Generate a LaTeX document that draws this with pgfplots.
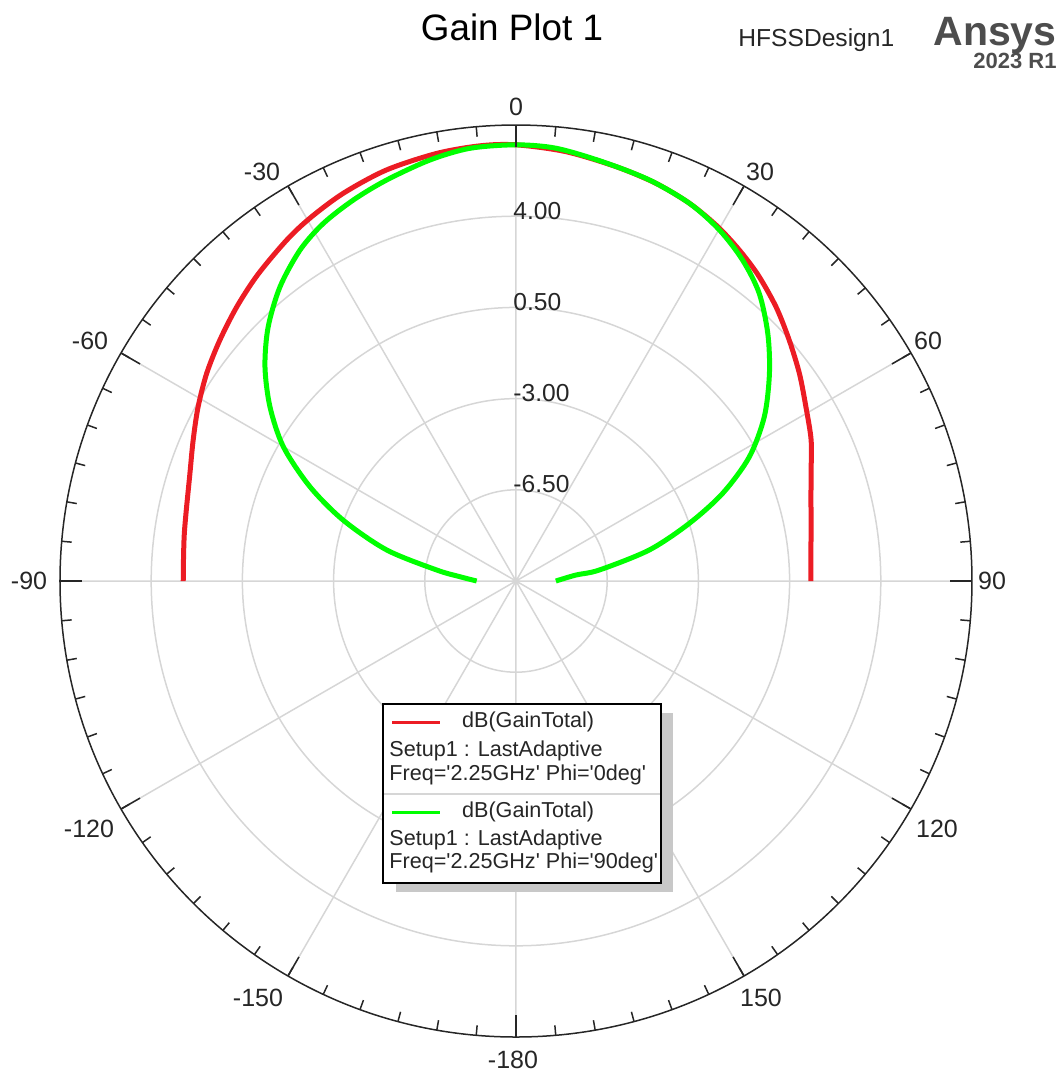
\documentclass[border=0pt]{standalone}
\usepackage{fontspec}
\setmainfont{Liberation Sans}
\usepackage{pgfplots}
\pgfplotsset{compat=1.18}
\usepgfplotslibrary{polar}
\usepackage{pgfplotstable}

\definecolor{cred}{RGB}{236,28,36}
\definecolor{cgreen}{RGB}{0,255,0}
\definecolor{cgrid}{RGB}{214,214,214}
\definecolor{ansys}{RGB}{77,77,77}
\definecolor{shadow}{RGB}{200,200,200}

\newlength\pxu
\setlength\pxu{0.5pt}

% theta: degrees clockwise from top (0 = up), dB: dB(GainTotal)
\pgfplotstableread{
theta dB
-90 2.77
-81.8 2.86
-71.7 3.18
-66.4 3.52
-61.3 3.91
-56.1 4.30
-50.9 4.65
-45.5 5.02
-40.1 5.38
-33.9 5.77
-29.5 6.02
-24.0 6.29
-17.5 6.54
-10.5 6.69
-4.7 6.76
0 6.74
6.6 6.59
13.6 6.36
19.4 6.18
24.7 5.95
29.5 5.66
33.8 5.34
38.3 4.98
43.5 4.50
48.6 3.98
53.8 3.48
59.0 2.98
64.5 2.55
70 2.05
75 1.72
80 1.50
85 1.36
90 1.32
}\redtab

\pgfplotstableread{
theta dB
-90 -8.49
-85.6 -7.84
-82.1 -6.93
-76.5 -4.90
-70.6 -2.97
-65.4 -1.30
-60.0 0.31
-54.7 1.57
-49.5 2.67
-44.3 3.62
-38.7 4.48
-33.1 5.17
-28.3 5.59
-23.1 5.90
-17.9 6.17
-11.6 6.49
-6.1 6.70
0 6.74
5.3 6.68
11.7 6.43
18.4 6.22
24.7 5.95
30.1 5.57
35.2 5.08
40.2 4.46
45.5 3.55
50.7 2.57
56.5 1.43
62.0 0.14
67.0 -1.38
71.6 -2.99
76.9 -4.75
82.5 -6.78
84.3 -7.69
90 -8.47
}\greentab

\begin{document}
\begin{tikzpicture}
\path[use as bounding box] (0,0) rectangle ({1064*\pxu},{-1078*\pxu});

\begin{polaraxis}[
  at={({516*\pxu},{-581*\pxu})}, anchor=center,
  scale only axis, width=456pt, height=456pt,
  xmin=0, xmax=360, ymin=0, ymax=17.5,
  xtick={0,30,...,330}, xticklabels={},
  ytick={3.5,7,10.5,14}, yticklabels={},
  grid=major,
  major grid style={cgrid, line width=0.75pt},
  axis line style={draw=none},
  major tick length=0pt, minor tick length=0pt,
  tick style={draw=none},
  clip=false,
]
\addplot[cred, line width=2.5pt, no markers, smooth]
  table[x expr={90-\thisrow{theta}}, y expr={\thisrow{dB}+10}] {\redtab};
\addplot[cgreen, line width=2.5pt, no markers, smooth]
  table[x expr={90-\thisrow{theta}}, y expr={\thisrow{dB}+10}] {\greentab};

% outer circle and angular ticks (pointing inward)
\draw[black!85, line width=0.75pt] (axis cs:0,0) circle[radius=228pt];
\pgfplotsinvokeforeach{0,5,...,355}{
  \draw[black!85, line width=0.75pt] (axis cs:#1,17.5) -- (axis cs:#1,17.116);
}
\pgfplotsinvokeforeach{0,30,...,330}{
  \draw[black!85, line width=0.75pt] (axis cs:#1,17.5) -- (axis cs:#1,16.66);
}

\node[anchor=base west, inner sep=0, xshift=-1.5pt, yshift=-1.5pt,
      font=\fontsize{12.3}{15}\selectfont, text=black!85] at (axis cs:90,14) {4.00};
\node[anchor=base west, inner sep=0, xshift=-1.5pt, yshift=-1.5pt,
      font=\fontsize{12.3}{15}\selectfont, text=black!85] at (axis cs:90,10.5) {0.50};
\node[anchor=base west, inner sep=0, xshift=-1.5pt, yshift=-1.5pt,
      font=\fontsize{12.3}{15}\selectfont, text=black!85] at (axis cs:90,7) {-3.00};
\node[anchor=base west, inner sep=0, xshift=-1.5pt, yshift=-1.5pt,
      font=\fontsize{12.3}{15}\selectfont, text=black!85] at (axis cs:90,3.5) {-6.50};
\end{polaraxis}

% angular tick labels
\begin{scope}[every node/.style={inner sep=0, font=\fontsize{12.5}{15}\selectfont, text=black!85}]
\node at ({516*\pxu},{-107*\pxu}) {0};
\node at ({760*\pxu},{-172*\pxu}) {30};
\node at ({928*\pxu},{-341*\pxu}) {60};
\node at ({992*\pxu},{-581*\pxu}) {90};
\node at ({937*\pxu},{-829*\pxu}) {120};
\node at ({761*\pxu},{-998*\pxu}) {150};
\node at ({513*\pxu},{-1060*\pxu}) {-180};
\node at ({258*\pxu},{-998*\pxu}) {-150};
\node at ({89*\pxu},{-829*\pxu}) {-120};
\node at ({29*\pxu},{-581*\pxu}) {-90};
\node at ({90*\pxu},{-341*\pxu}) {-60};
\node at ({262*\pxu},{-172*\pxu}) {-30};
\end{scope}

% titles
\node[font=\fontsize{18.4}{22}\selectfont, text=black] at ({512*\pxu},{-27*\pxu}) {Gain Plot 1};
\node[font=\fontsize{12.3}{15}\selectfont, text=black!85, anchor=west, inner sep=0] at ({738*\pxu},{-40*\pxu}) {HFSSDesign1};
\node[font=\bfseries\fontsize{20.5}{24}\selectfont, text=ansys, anchor=base east, inner sep=0] at ({1057*\pxu},{-45*\pxu}) {Ansys};
\node[font=\bfseries\fontsize{11}{13}\selectfont, text=ansys, anchor=base east, inner sep=0] at ({1057*\pxu},{-68*\pxu}) {2023 R1};

% legend
\fill[shadow] ({396*\pxu},{-713*\pxu}) rectangle ({673*\pxu},{-892*\pxu});
\draw[black, fill=white, line width=1pt] ({383*\pxu},{-704*\pxu}) rectangle ({661*\pxu},{-883*\pxu});
\draw[cgrid, line width=1pt] ({384*\pxu},{-794*\pxu}) -- ({660*\pxu},{-794*\pxu});
\draw[cred, line width=1.75pt] ({392*\pxu},{-722.7*\pxu}) -- ({440*\pxu},{-722.7*\pxu});
\draw[cgreen, line width=1.75pt] ({392*\pxu},{-812.7*\pxu}) -- ({440*\pxu},{-812.7*\pxu});
\begin{scope}[every node/.style={anchor=west, inner sep=0, font=\fontsize{10.8}{13}\selectfont, text=black!85}]
\node at ({461.7*\pxu},{-722*\pxu}) {dB(GainTotal)};
\node at ({389*\pxu},{-751*\pxu}) {Setup1 : LastAdaptive};
\node at ({389*\pxu},{-775*\pxu}) {Freq=\textquotesingle2.25GHz\textquotesingle\ Phi=\textquotesingle0deg\textquotesingle};
\node at ({461.7*\pxu},{-812*\pxu}) {dB(GainTotal)};
\node at ({389*\pxu},{-840*\pxu}) {Setup1 : LastAdaptive};
\node at ({389*\pxu},{-863.3*\pxu}) {Freq=\textquotesingle2.25GHz\textquotesingle\ Phi=\textquotesingle90deg\textquotesingle};
\end{scope}
\end{tikzpicture}
\end{document}
